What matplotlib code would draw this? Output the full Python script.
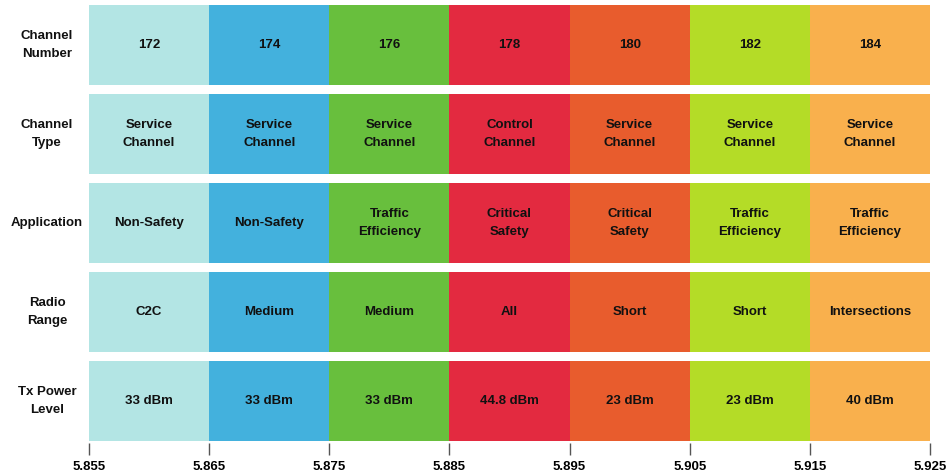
import matplotlib.pyplot as plt
import matplotlib.transforms as mtransforms
import numpy as np

plt.rcParams['font.family'] = ['Liberation Sans', 'DejaVu Sans']

channel_start = [5.855, 5.865, 5.875, 5.885, 5.895, 5.905, 5.915]
channel_width = 0.01
colors = ['#b3e5e4', '#43b1dd', '#68bf3d', '#e32a40', '#e85c2d', '#b4dc27', '#f9b04d']

row_labels = ['Channel\nNumber', 'Channel\nType', 'Application', 'Radio\nRange', 'Tx Power\nLevel']
channel_number = ['172', '174', '176', '178', '180', '182', '184']
channel_type = ['Service\nChannel', 'Service\nChannel', 'Service\nChannel', 'Control\nChannel',
                'Service\nChannel', 'Service\nChannel', 'Service\nChannel']
application = ['Non-Safety', 'Non-Safety', 'Traffic\nEfficiency', 'Critical\nSafety',
               'Critical\nSafety', 'Traffic\nEfficiency', 'Traffic\nEfficiency']
radio_range = ['C2C', 'Medium', 'Medium', 'All', 'Short', 'Short', 'Intersections']
tx_power = ['33 dBm', '33 dBm', '33 dBm', '44.8 dBm', '23 dBm', '23 dBm', '40 dBm']

rows = [channel_number, channel_type, application, radio_range, tx_power]
ticks = [5.855, 5.865, 5.875, 5.885, 5.895, 5.905, 5.915, 5.925]

fig = plt.figure(figsize=(9.48, 4.74), dpi=100)
ax = fig.add_axes([89 / 948, 1 - 443 / 474, (930 - 89) / 948, (443 - 5) / 474])

n_rows = len(rows)
for r, texts in enumerate(rows):
    y = n_rows - 1 - r
    ax.barh(np.full(len(channel_start), y), channel_width, left=channel_start,
            height=0.9, color=colors, align='center', linewidth=0)
    for x0, t in zip(channel_start, texts):
        ax.text(x0 + channel_width / 2, y, t, ha='center', va='center',
                fontsize=9.5, fontweight='bold', color='#111111', linespacing=1.7)

trans = mtransforms.blended_transform_factory(fig.transFigure, ax.transData)
for r, lab in enumerate(row_labels):
    y = n_rows - 1 - r
    fig.text(47 / 948, y, lab, transform=trans, ha='center', va='center',
             fontsize=9.5, fontweight='bold', color='#111111', linespacing=1.7)

ax.set_xlim(5.855, 5.925)
ax.set_ylim(-0.4725, -0.4725 + 438 / 89)
ax.set_xticks(ticks)
ax.set_xticklabels([f'{t:.3f}' for t in ticks], fontsize=9.5, fontweight='bold')
ax.set_yticks([])
for s in ax.spines.values():
    s.set_visible(False)
ax.tick_params(axis='x', direction='out', length=8.6, width=1, color='#555555', pad=4.5)

fig.savefig('out.png', dpi=100)
